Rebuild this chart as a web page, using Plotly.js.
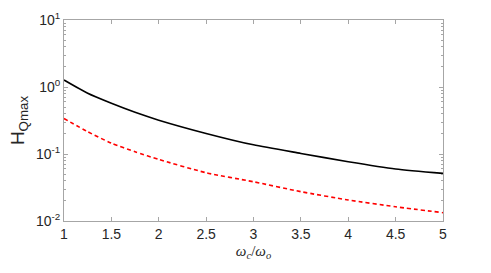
<!DOCTYPE html>
<html>
<head>
<meta charset="utf-8">
<script src="https://cdn.plot.ly/plotly-3.0.1.min.js"></script>
<style>html,body{margin:0;padding:0;background:#fff;}#chart{width:491px;height:273px;}</style>
</head>
<body>
<div id="chart"></div>
<script>
const ratio = [1, 1.25, 1.5, 1.75, 2, 2.5, 3, 3.5, 4, 4.5, 5];
const hSolid = [1.27, 0.805, 0.571, 0.419, 0.32, 0.203, 0.137, 0.102, 0.0767, 0.0597, 0.0513];
const hDashed = [0.338, 0.215, 0.145, 0.108, 0.083, 0.0525, 0.0385, 0.0274, 0.0206, 0.0163, 0.0133];
const yTickVals = [0.01, 0.1, 1, 10];
const yTickText = ['10<sup>-2</sup>', '10<sup>-1</sup>', '10<sup>0</sup>', '10<sup>1</sup>'];

const traces = [
  {x: ratio, y: hSolid, mode: 'lines', line: {color: '#000000', width: 1.6, shape: 'spline', smoothing: 0.6}, hoverinfo: 'skip'},
  {x: ratio, y: hDashed, mode: 'lines', line: {color: '#ff0000', width: 1.6, dash: '4px,3px', shape: 'spline', smoothing: 0.6}, hoverinfo: 'skip'}
];

const layout = {
  width: 491, height: 273,
  margin: {l: 64, r: 48, t: 20, b: 52},
  paper_bgcolor: '#ffffff', plot_bgcolor: '#ffffff',
  showlegend: false,
  font: {family: 'Liberation Sans, Arial, sans-serif', color: '#262626', size: 13},
  xaxis: {
    range: [1, 5], tickmode: 'linear', tick0: 1, dtick: 0.5,
    showgrid: false, zeroline: false,
    showline: true, linecolor: '#a6a6a6', linewidth: 1, mirror: 'ticks',
    ticks: 'inside', ticklen: 4, tickcolor: '#a6a6a6',
    tickfont: {size: 14, color: '#262626'},
    title: {text: '<i>ω<sub>c</sub></i>/<i>ω<sub>o</sub></i>', font: {family: 'Liberation Serif, Times New Roman, serif', size: 15, color: '#262626'}, standoff: 4}
  },
  yaxis: {
    type: 'log', range: [-2, 1], tickmode: 'array', tickvals: yTickVals, ticktext: yTickText,
    showgrid: false, zeroline: false,
    showline: true, linecolor: '#a6a6a6', linewidth: 1, mirror: 'ticks',
    ticks: 'inside', ticklen: 4, tickcolor: '#a6a6a6',
    minor: {ticks: 'inside', ticklen: 2, tickcolor: '#a6a6a6', dtick: 'D1', showgrid: false},
    tickfont: {size: 14, color: '#262626'},
    title: {text: 'H<sub>Qmax</sub>', font: {size: 19, color: '#262626'}, standoff: 6}
  }
};

Plotly.newPlot('chart', traces, layout, {staticPlot: true, displayModeBar: false});
</script>
</body>
</html>
